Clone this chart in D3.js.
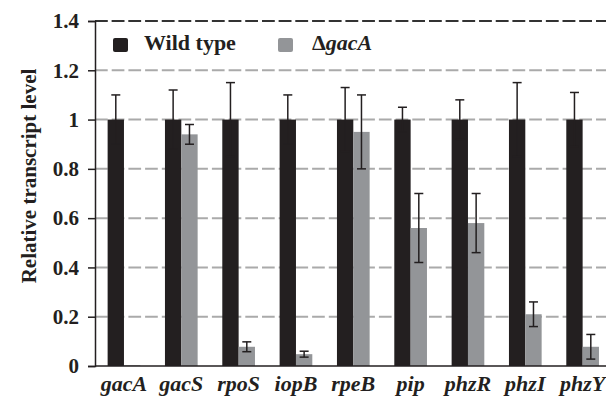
<!DOCTYPE html>
<html>
<head>
<meta charset="utf-8">
<script src="https://cdn.jsdelivr.net/npm/d3@7"></script>
<style>
  body { margin: 0; background: #fff; }
  svg text { font-family: "Liberation Serif", "Times New Roman", serif; font-weight: bold; fill: #231f20; }
</style>
</head>
<body>
<div id="chart"></div>
<script>
const genes = ['gacA', 'gacS', 'rpoS', 'iopB', 'rpeB', 'pip', 'phzR', 'phzI', 'phzY'];
const seriesNames = ['Wild type', 'gacA'];
const wildType = [1, 1, 1, 1, 1, 1, 1, 1, 1];
const wildTypeErr = [0.10, 0.12, 0.15, 0.10, 0.13, 0.05, 0.08, 0.15, 0.11];
const mutant = [0.003, 0.94, 0.078, 0.048, 0.95, 0.56, 0.58, 0.21, 0.078];
const mutantErr = [0, 0.04, 0.02, 0.012, 0.15, 0.14, 0.12, 0.05, 0.05];
const yTicks = [0, 0.2, 0.4, 0.6, 0.8, 1, 1.2, 1.4];

const width = 606, height = 396;
const colors = ['#231f20', '#939598'];

const svg = d3.select('#chart').append('svg')
  .attr('width', width)
  .attr('height', height);

const x = d3.scaleBand().domain(genes)
  .range([95.3, 611.3])
  .paddingInner(0.43)
  .paddingOuter(0.215);

const sub = d3.scaleBand().domain([0, 1]).range([0, x.bandwidth()]);

const y = d3.scaleLinear().domain([0, 1.4]).range([366, 21]);

// grid lines
svg.append('g')
  .selectAll('line')
  .data(yTicks.filter((d) => d > 0))
  .join('line')
  .attr('x1', 95).attr('x2', width)
  .attr('y1', (d) => y(d)).attr('y2', (d) => y(d))
  .attr('stroke', '#aaaaaa')
  .attr('stroke-width', 2)
  .attr('stroke-dasharray', '12.7,4');

// top line is darker
svg.append('line')
  .attr('x1', 95).attr('x2', width)
  .attr('y1', y(1.4)).attr('y2', y(1.4))
  .attr('stroke', '#333')
  .attr('stroke-width', 2)
  .attr('stroke-dasharray', '12.7,4');

const data = genes.map((g, i) => ({
  gene: g,
  values: [
    { s: 0, v: wildType[i], e: wildTypeErr[i] },
    { s: 1, v: mutant[i], e: mutantErr[i] }
  ]
}));

const groups = svg.append('g')
  .selectAll('g')
  .data(data)
  .join('g')
  .attr('transform', (d) => `translate(${x(d.gene)},0)`);

groups.selectAll('rect')
  .data((d) => d.values)
  .join('rect')
  .attr('x', (d) => sub(d.s))
  .attr('y', (d) => y(d.v))
  .attr('width', sub.bandwidth())
  .attr('height', (d) => y(0) - y(d.v))
  .attr('fill', (d) => colors[d.s]);

// error bars
const errs = groups.selectAll('g.err')
  .data((d) => d.values.filter((v) => v.e > 0))
  .join('g')
  .attr('class', 'err')
  .attr('stroke', '#231f20')
  .attr('stroke-width', 1.5);

errs.append('line')
  .attr('x1', (d) => sub(d.s) + sub.bandwidth() / 2)
  .attr('x2', (d) => sub(d.s) + sub.bandwidth() / 2)
  .attr('y1', (d) => y(d.v - d.e))
  .attr('y2', (d) => y(d.v + d.e));

[1, -1].forEach((sign) => {
  errs.append('line')
    .attr('x1', (d) => sub(d.s) + sub.bandwidth() / 2 - 4.5)
    .attr('x2', (d) => sub(d.s) + sub.bandwidth() / 2 + 4.5)
    .attr('y1', (d) => y(d.v + sign * d.e))
    .attr('y2', (d) => y(d.v + sign * d.e));
});

// axes
const yAxis = d3.axisLeft(y).tickValues(yTicks).tickSize(7).tickPadding(9)
  .tickFormat((d) => d === 0 || d === 1 ? String(d) : d3.format('.1f')(d));

svg.append('g')
  .attr('class', 'y axis')
  .attr('transform', 'translate(95,0)')
  .call(yAxis)
  .call((g) => g.select('.domain').attr('stroke', '#231f20').attr('stroke-width', 1.5))
  .call((g) => g.selectAll('.tick line').attr('stroke', '#231f20').attr('stroke-width', 1.5))
  .call((g) => g.selectAll('.tick text')
    .style('font-family', '"Liberation Serif", serif')
    .style('font-weight', 'bold')
    .style('font-size', '21px')
    .attr('fill', '#231f20'));

svg.append('line')
  .attr('x1', 95).attr('x2', width)
  .attr('y1', y(0)).attr('y2', y(0))
  .attr('stroke', '#231f20')
  .attr('stroke-width', 1.5);

svg.append('g')
  .selectAll('text')
  .data(genes)
  .join('text')
  .attr('x', (d) => x(d) + x.bandwidth() / 2)
  .attr('y', 391)
  .attr('text-anchor', 'middle')
  .style('font-size', '22px')
  .style('font-style', 'italic')
  .text((d) => d);

svg.append('text')
  .attr('transform', 'translate(36,176) rotate(-90)')
  .attr('text-anchor', 'middle')
  .style('font-size', '21px')
  .text('Relative transcript level');

// legend
const legend = svg.append('g');
legend.append('rect')
  .attr('x', 113).attr('y', 38).attr('width', 15).attr('height', 14).attr('rx', 2)
  .attr('fill', colors[0]);
legend.append('text')
  .attr('x', 144).attr('y', 50)
  .style('font-size', '22px')
  .text(seriesNames[0]);
legend.append('rect')
  .attr('x', 278).attr('y', 38).attr('width', 15).attr('height', 14).attr('rx', 2)
  .attr('fill', colors[1]);
const lt = legend.append('text')
  .attr('x', 312).attr('y', 50)
  .style('font-size', '22px');
lt.append('tspan').text('\u0394');
lt.append('tspan').style('font-style', 'italic').text(seriesNames[1]);
</script>
</body>
</html>
